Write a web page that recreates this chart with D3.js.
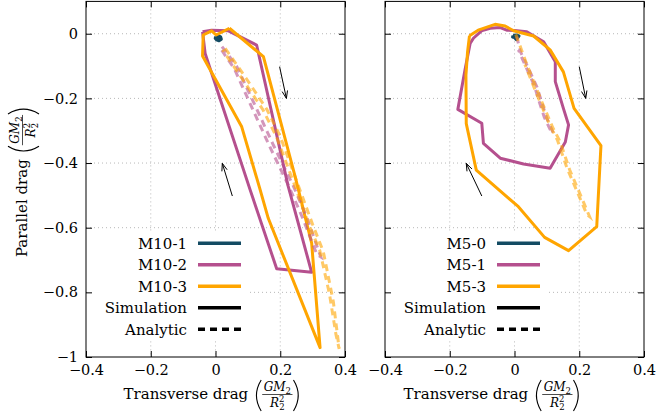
<!DOCTYPE html>
<html>
<head>
<meta charset="utf-8">
<script src="https://cdn.jsdelivr.net/npm/d3@7"></script>
<style>
  body { margin: 0; background: #fff; }
  svg text { font-family: "DejaVu Serif", serif; fill: #000; }
</style>
</head>
<body>
<svg id="chart" width="656" height="420"></svg>
<script>
// ---- data ----
var xTicks = [-0.4, -0.2, 0, 0.2, 0.4];
var yTicks = [0, -0.2, -0.4, -0.6, -0.8, -1];

// left panel: M10 runs, simulation loops
var m10_1 = [[0.001, -0.009], [0.008, -0.006], [0.016, -0.010], [0.018, -0.017], [0.011, -0.022], [0.003, -0.019], [-0.001, -0.014], [0.001, -0.009]];
var m10_2 = [[-0.040, 0.006], [-0.012, 0.011], [0.040, 0.009], [0.127, -0.035], [0.224, -0.470], [0.297, -0.738], [0.189, -0.727], [0.107, -0.483], [-0.032, -0.061], [-0.040, 0.006]];
var m10_3 = [[0.043, 0.017], [0.148, -0.071], [0.246, -0.442], [0.297, -0.648], [0.323, -0.971], [0.163, -0.571], [0.136, -0.476], [0.081, -0.288], [-0.040, -0.069], [-0.038, -0.004], [-0.012, 0.009], [0.002, -0.004], [0.043, 0.017]];
// left panel: analytic (narrow out-and-back traces)
var m10_2_an = [[0.020, -0.040], [0.065, -0.100], [0.127, -0.232], [0.179, -0.345], [0.240, -0.470], [0.282, -0.568], [0.325, -0.690],
                [0.313, -0.682], [0.270, -0.572], [0.228, -0.475], [0.168, -0.350], [0.116, -0.236], [0.058, -0.108], [0.015, -0.045]];
var m10_3_an = [[0.030, -0.045], [0.096, -0.140], [0.158, -0.233], [0.199, -0.315], [0.256, -0.470], [0.300, -0.590], [0.333, -0.674], [0.364, -0.829], [0.382, -0.975],
                [0.372, -0.930], [0.352, -0.805], [0.322, -0.670], [0.288, -0.590], [0.245, -0.470], [0.188, -0.318], [0.147, -0.236], [0.085, -0.143], [0.022, -0.050]];

// right panel: M5 runs
var m5_0 = [[-0.004, -0.006], [0.005, -0.004], [0.014, -0.007], [0.010, -0.013], [0.005, -0.018], [0.000, -0.012], [-0.006, -0.010], [-0.004, -0.006]];
var m5_1 = [[-0.137, -0.030], [-0.127, -0.014], [-0.100, 0.010], [-0.075, 0.017], [-0.044, 0.019], [-0.024, 0.011], [0.000, 0.010], [0.038, 0.006], [0.090, -0.025], [0.126, -0.087], [0.126, -0.148], [0.151, -0.231], [0.167, -0.282], [0.157, -0.335], [0.110, -0.416], [0.028, -0.403], [-0.044, -0.385], [-0.096, -0.339], [-0.101, -0.277], [-0.175, -0.234], [-0.152, -0.107], [-0.137, -0.030]];
var m5_3 = [[-0.139, -0.006], [-0.110, 0.012], [-0.060, 0.029], [-0.029, 0.024], [-0.003, 0.009], [0.059, -0.007], [0.110, -0.050], [0.151, -0.118], [0.184, -0.231], [0.267, -0.346], [0.254, -0.597], [0.167, -0.671], [0.093, -0.630], [0.012, -0.535], [-0.118, -0.422], [-0.149, -0.278], [-0.150, -0.128], [-0.145, -0.056], [-0.139, -0.006]];
var m5_1_an = [[0.007, -0.009], [0.018, -0.055], [0.043, -0.107], [0.069, -0.164], [0.085, -0.215], [0.100, -0.262], [0.120, -0.308],
               [0.112, -0.300], [0.092, -0.258], [0.077, -0.212], [0.061, -0.160], [0.036, -0.104], [0.012, -0.050]];
var m5_3_an = [[0.004, -0.002], [0.040, -0.100], [0.080, -0.200], [0.118, -0.290], [0.141, -0.334], [0.170, -0.420], [0.200, -0.490], [0.232, -0.566],
               [0.224, -0.560], [0.192, -0.485], [0.162, -0.415], [0.133, -0.330], [0.110, -0.285], [0.072, -0.195], [0.032, -0.095]];

// direction arrows [x1, y1, x2, y2], head at (x2, y2)
var arrowsLeft = [[0.198, -0.102, 0.219, -0.200], [0.052, -0.502, 0.021, -0.401]];
var arrowsRight = [[0.200, -0.102, 0.220, -0.200], [-0.101, -0.502, -0.149, -0.401]];

var namesLeft = ["M10-1", "M10-2", "M10-3"];
var namesRight = ["M5-0", "M5-1", "M5-3"];
var colors = ["#134b63", "#b5508e", "#ffa500"];

(function () {
  var svg = d3.select("#chart");
  var plotTop = 1.4, plotBottom = 357;

  var y = d3.scaleLinear().domain([-1, 0.1]).range([plotBottom, plotTop]);

  function fmt(d) {
    if (d === 0) return "0";
    var s = Number.isInteger(d) ? String(d) : d3.format(".1f")(d);
    return s.replace("-", "\u2212");
  }

  function panel(x0, x1, series, analytic, arrows, names, legendRight, showYLabels) {
    var x = d3.scaleLinear().domain([-0.4, 0.4]).range([x0, x1]);
    var g = svg.append("g");
    var id = "clip" + x0;
    svg.append("clipPath").attr("id", id).append("rect")
      .attr("x", x0).attr("y", plotTop).attr("width", x1 - x0).attr("height", plotBottom - plotTop);

    /* grid */
    g.selectAll(".gx").data(xTicks.slice(1, -1)).enter().append("line")
      .attr("x1", x).attr("x2", x).attr("y1", plotTop).attr("y2", plotBottom)
      .attr("stroke", "#b8b8b8").attr("stroke-width", 1).attr("stroke-dasharray", "1,3");
    g.selectAll(".gy").data(yTicks.slice(0, -1)).enter().append("line")
      .attr("y1", y).attr("y2", y).attr("x1", x0).attr("x2", x1)
      .attr("stroke", "#b8b8b8").attr("stroke-width", 1).attr("stroke-dasharray", "1,3");

    /* legend background hides the grid, not the curves */
    g.append("rect").attr("x", x0 + 1).attr("y", 232).attr("width", legendRight + 60 - x0).attr("height", 109)
      .attr("fill", "#fff");

    var line = d3.line().x(function (d) { return x(d[0]); }).y(function (d) { return y(d[1]); });
    var plot = g.append("g").attr("clip-path", "url(#" + id + ")");

    /* simulation */
    series.forEach(function (s, i) {
      plot.append("path").attr("d", line(s)).attr("fill", i === 0 ? colors[0] : "none")
        .attr("stroke", colors[i]).attr("stroke-width", 3).attr("stroke-linejoin", "round");
    });
    /* analytic */
    analytic.forEach(function (s) {
      plot.append("path").attr("d", line(s.pts)).attr("fill", "none")
        .attr("stroke", colors[s.c]).attr("stroke-width", 3).attr("stroke-opacity", 0.6)
        .attr("stroke-dasharray", "7,5");
    });

    /* arrows */
    arrows.forEach(function (a) {
      var ax1 = x(a[0]), ay1 = y(a[1]), ax2 = x(a[2]), ay2 = y(a[3]);
      var ang = Math.atan2(ay2 - ay1, ax2 - ax1), h = 8, w = 0.35;
      plot.append("line").attr("x1", ax1).attr("y1", ay1).attr("x2", ax2).attr("y2", ay2)
        .attr("stroke", "#000").attr("stroke-width", 1);
      plot.append("path")
        .attr("d", "M" + (ax2 - h * Math.cos(ang - w)) + "," + (ay2 - h * Math.sin(ang - w)) +
                   "L" + ax2 + "," + ay2 +
                   "L" + (ax2 - h * Math.cos(ang + w)) + "," + (ay2 - h * Math.sin(ang + w)))
        .attr("fill", "none").attr("stroke", "#000").attr("stroke-width", 1);
    });

    /* axes with inward ticks on all sides */
    g.append("g").attr("transform", "translate(0," + plotBottom + ")")
      .call(d3.axisBottom(x).tickValues(xTicks).tickSize(-6).tickSizeOuter(0).tickPadding(8).tickFormat(fmt));
    g.append("g").attr("transform", "translate(0," + plotTop + ")")
      .call(d3.axisTop(x).tickValues(xTicks).tickSize(-6).tickSizeOuter(0).tickFormat(""));
    g.append("g").attr("transform", "translate(" + x0 + ",0)")
      .call(d3.axisLeft(y).tickValues(yTicks).tickSize(-6).tickSizeOuter(0).tickPadding(8)
        .tickFormat(showYLabels ? fmt : ""));
    g.append("g").attr("transform", "translate(" + x1 + ",0)")
      .call(d3.axisRight(y).tickValues(yTicks).tickSize(-6).tickSizeOuter(0).tickFormat(""));
    g.selectAll(".domain").remove();
    g.selectAll(".tick line").attr("stroke", "#000");
    g.selectAll(".tick text").attr("font-size", 14.5).attr("font-family", "DejaVu Serif");

    /* legend */
    var lg = g.append("g");
    var items = names.map(function (n, i) { return { name: n, color: colors[i], dash: null }; })
      .concat([{ name: "Simulation", color: "#000", dash: null }, { name: "Analytic", color: "#000", dash: "7,5" }]);
    items.forEach(function (it, i) {
      var ly = 243.3 + i * 21.5;
      lg.append("text").attr("x", legendRight).attr("y", ly + 5.3).attr("text-anchor", "end")
        .attr("font-size", 15).text(it.name);
      lg.append("line").attr("x1", legendRight + 11).attr("x2", legendRight + 54).attr("y1", ly).attr("y2", ly)
        .attr("stroke", it.color).attr("stroke-width", 3.5).attr("stroke-dasharray", it.dash);
    });

    /* frame */
    g.append("rect").attr("x", x0).attr("y", plotTop).attr("width", x1 - x0).attr("height", plotBottom - plotTop)
      .attr("fill", "none").attr("stroke", "#000").attr("stroke-width", 1);
  }

  panel(86, 345, [m10_1, m10_2, m10_3],
    [{ pts: m10_2_an, c: 1 }, { pts: m10_3_an, c: 2 }], arrowsLeft, namesLeft, 187, true);
  panel(385, 644, [m5_0, m5_1, m5_3],
    [{ pts: m5_1_an, c: 1 }, { pts: m5_3_an, c: 2 }], arrowsRight, namesRight, 486, false);

  /* axis title with a (GM2 / R2^2) fraction, centred on (cx, baseline cy) */
  function title(cx, cy, rot, label) {
    var outer = svg.append("g").attr("transform", "translate(" + cx + "," + cy + ") rotate(" + rot + ")");
    var g = outer.append("g");
    var t = g.append("text").attr("font-size", 15).attr("y", 0).text(label);
    var tw = t.node().getComputedTextLength();
    var num = g.append("text").attr("font-size", 12).attr("text-anchor", "middle").attr("y", -8);
    num.append("tspan").attr("font-style", "italic").text("GM");
    num.append("tspan").attr("font-size", 8.5).attr("dy", 2.5).text("2");
    var den = g.append("text").attr("font-size", 12).attr("text-anchor", "middle").attr("y", 7.5);
    den.append("tspan").attr("font-style", "italic").text("R");
    den.append("tspan").attr("font-size", 8.5).attr("dy", -5).text("2");
    den.append("tspan").attr("font-size", 8.5).attr("dx", -5.3).attr("dy", 8.5).text("2");
    var fw = num.node().getComputedTextLength() + 3;
    var gap = 6, pw = 7;
    var px0 = tw + gap, fx = px0 + pw + 1 + fw / 2, px1 = fx + fw / 2 + 1;
    num.attr("x", fx); den.attr("x", fx);
    g.append("line").attr("x1", fx - fw / 2).attr("x2", fx + fw / 2).attr("y1", -4.5).attr("y2", -4.5)
      .attr("stroke", "#000").attr("stroke-width", 0.7);
    g.append("path").attr("d", "M" + (px0 + pw) + ",-19 Q" + (px0 - 2.5) + ",-3.5 " + (px0 + pw) + ",12")
      .attr("fill", "none").attr("stroke", "#000").attr("stroke-width", 1.1);
    g.append("path").attr("d", "M" + px1 + ",-19 Q" + (px1 + pw + 2.5) + ",-3.5 " + px1 + ",12")
      .attr("fill", "none").attr("stroke", "#000").attr("stroke-width", 1.1);
    var total = px1 + pw;
    g.attr("transform", "translate(" + (-total / 2) + ",0)");
  }

  title(212, 399, 0, "Transverse drag");
  title(492, 399, 0, "Transverse drag");
  title(27, 182, -90, "Parallel drag");
})();
</script>
</body>
</html>
